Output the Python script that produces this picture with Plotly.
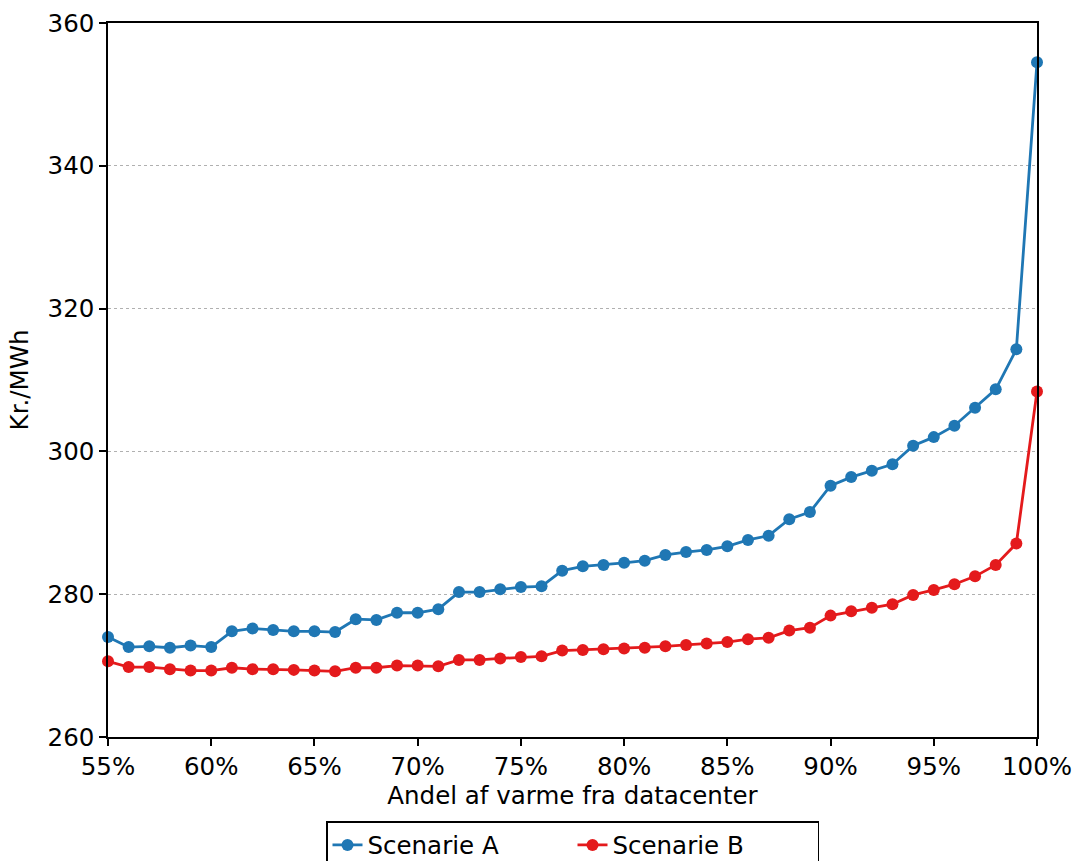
import plotly.graph_objects as go

andel = [55, 56, 57, 58, 59, 60, 61, 62, 63, 64, 65, 66, 67, 68, 69, 70, 71, 72, 73, 74, 75, 76,
         77, 78, 79, 80, 81, 82, 83, 84, 85, 86, 87, 88, 89, 90, 91, 92, 93, 94, 95, 96, 97, 98, 99, 100]

scenarie_a = [274.0, 272.6, 272.7, 272.5, 272.8, 272.6, 274.8, 275.2, 275.0, 274.8, 274.8, 274.7,
              276.5, 276.4, 277.4, 277.4, 277.9, 280.3, 280.3, 280.7, 281.0, 281.1, 283.3, 283.9,
              284.1, 284.4, 284.7, 285.5, 285.9, 286.2, 286.7, 287.6, 288.2, 290.5, 291.5, 295.2,
              296.4, 297.3, 298.2, 300.8, 302.0, 303.6, 306.1, 308.7, 314.3, 354.5]

scenarie_b = [270.6, 269.8, 269.8, 269.5, 269.3, 269.3, 269.7, 269.5, 269.5, 269.4, 269.3, 269.2,
              269.7, 269.7, 270.0, 270.0, 269.9, 270.8, 270.8, 271.0, 271.2, 271.3, 272.1, 272.2,
              272.3, 272.4, 272.5, 272.7, 272.9, 273.1, 273.3, 273.7, 273.9, 274.9, 275.3, 277.0,
              277.6, 278.1, 278.6, 279.9, 280.6, 281.4, 282.5, 284.1, 287.1, 308.4]

x_ticks = [55, 60, 65, 70, 75, 80, 85, 90, 95, 100]
y_ticks = [260, 280, 300, 320, 340, 360]

fig = go.Figure()
fig.add_trace(go.Scatter(x=andel, y=scenarie_a, mode="lines+markers", name="Scenarie A",
                         line=dict(color="#1f77b4", width=2.8),
                         marker=dict(size=12, color="#1f77b4"), cliponaxis=False))
fig.add_trace(go.Scatter(x=andel, y=scenarie_b, mode="lines+markers", name="Scenarie B",
                         line=dict(color="#e41a1c", width=2.8),
                         marker=dict(size=12, color="#e41a1c"), cliponaxis=False))

font = dict(family="DejaVu Sans", size=24.5, color="black")
fig.update_layout(
    width=1075, height=861,
    margin=dict(l=108, r=38, t=23, b=124, autoexpand=False),
    paper_bgcolor="white", plot_bgcolor="white",
    font=font,
    showlegend=True,
    legend=dict(orientation="h", x=0.5, xanchor="center", xref="paper",
                y=1 - 821 / 861, yanchor="top", yref="container",
                bordercolor="black", borderwidth=1.5, font=font,
                entrywidth=200, entrywidthmode="pixels", tracegroupgap=0),
    xaxis=dict(range=[55, 100], tickvals=x_ticks, ticktext=[f"{v}%" for v in x_ticks],
               automargin=False,
               showgrid=False, zeroline=False, showline=True, linecolor="black", linewidth=1.5,
               mirror=True, ticks="outside", ticklen=7, tickwidth=1.5, tickcolor="black",
               title=dict(text="Andel af varme fra datacenter", font=font, standoff=6)),
    yaxis=dict(range=[260, 360], tickvals=y_ticks, showgrid=True, gridcolor="#b0b0b0",
               automargin=False,
               griddash="dot", gridwidth=1.2, zeroline=False, showline=True, linecolor="black",
               linewidth=1.5, mirror=True, ticks="outside", ticklen=7, tickwidth=1.5,
               tickcolor="black",
               title=dict(text="Kr./MWh", font=font, standoff=12)),
)

fig.write_html("out.html")
